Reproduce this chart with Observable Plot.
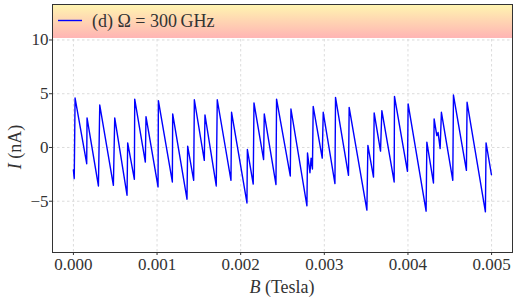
<!DOCTYPE html>
<html><head><meta charset="utf-8">
<script src="https://cdn.jsdelivr.net/npm/d3@7"></script>
<script src="https://cdn.jsdelivr.net/npm/@observablehq/plot@0.6"></script>
<style>body{margin:0;background:#fff} svg{display:block}</style>
</head><body><div id="chart"></div>
<script>
// Magnetic field B in units of 1e-3 Tesla
const B_mT = [0.000,0.010,0.020,0.159,0.163,0.299,0.315,0.478,0.494,0.641,0.649,0.729,0.733,0.860,0.868,
  1.012,1.016,1.183,1.187,1.358,1.366,1.438,1.446,1.565,1.573,1.708,1.720,1.884,1.891,
  2.075,2.080,2.150,2.159,2.274,2.282,2.422,2.429,2.593,2.601,2.792,2.799,2.828,2.842,2.858,2.867,2.975,2.987,
  3.127,3.134,3.289,3.297,3.509,3.521,3.588,3.596,3.672,3.688,3.835,3.839,3.994,4.002,
  4.217,4.226,4.305,4.313,4.345,4.360,4.385,4.400,4.536,4.544,4.699,4.707,4.926,4.934,4.998];
// Current I in nA
const I_nA = [-2.1,-2.9,4.6,-1.51,2.75,-3.58,3.95,-3.52,2.75,-4.44,0.43,-2.96,4.5,-1.36,2.87,
  -3.67,4.35,-3.21,3.12,-4.81,0.12,-3.06,4.44,-1.2,3.03,-3.58,4.44,-3.06,3.27,
  -5.16,-0.19,-3.4,4.14,-1.12,3.12,-3.45,4.5,-2.65,3.58,-5.43,-0.52,-2.35,-0.99,-2.0,3.82,-0.99,3.27,
  -3.36,4.66,-2.59,3.73,-5.83,0.19,-2.75,3.21,-0.34,3.43,-3.21,4.75,-2.22,4.05,
  -5.93,0.49,-3.3,2.66,1.1,1.4,-0.1,3.27,-3.06,4.88,-2.13,4.2,-5.99,0.43,-2.53];
const xTicks = [0, 0.001, 0.002, 0.003, 0.004, 0.005];
const yTicks = [-5, 0, 5, 10];
const legendLabel = "(d) Ω = 300\u2009GHz";

const data = B_mT.map((b, i) => ({B: b / 1000, I: I_nA[i]}));

const chart = Plot.plot({
  width: 518, height: 299,
  marginLeft: 52, marginRight: 6, marginTop: 4, marginBottom: 47,
  style: {fontFamily: "'Liberation Serif', serif", fontSize: "17px", color: "#333", background: "#fff"},
  x: {domain: [-0.00025, 0.00525], label: null},
  y: {domain: [-9.77, 13.3], label: null},
  marks: [
    Plot.gridX(xTicks, {stroke: "#dcdcdc", strokeOpacity: 1, strokeDasharray: "2.5,2.5"}),
    Plot.gridY(yTicks, {stroke: "#dcdcdc", strokeOpacity: 1, strokeDasharray: "2.5,2.5"}),
    Plot.line(data, {x: "B", y: "I", stroke: "#0000ff", strokeWidth: 1.4}),
    Plot.axisX(xTicks, {tickFormat: d3.format(".3f"), tickSize: 3, tickPadding: 2, stroke: "#333", fontSize: 17}),
    Plot.axisY(yTicks, {tickSize: 3, tickPadding: 1, stroke: "#333", fontSize: 17}),
    Plot.frame({stroke: "#333", strokeWidth: 1})
  ]
});
document.getElementById("chart").appendChild(chart);

const svg = d3.select(chart);
const xs = chart.scale("x"), ys = chart.scale("y");
const x0 = xs.range[0], x1 = xs.range[1];
const yTop = ys.range[1], yBand = ys.apply(10) - 1.5;

const defs = svg.insert("defs", ":first-child");
const grad = defs.append("linearGradient").attr("id", "legendGrad")
  .attr("x1", 0).attr("y1", 0).attr("x2", 0).attr("y2", 1);
grad.append("stop").attr("offset", "0%").attr("stop-color", "#fff6b0");
grad.append("stop").attr("offset", "100%").attr("stop-color", "#ffb4b4");

const lg = svg.insert("g", "[aria-label=frame]");
lg.append("rect").attr("x", x0).attr("y", yTop).attr("width", x1 - x0).attr("height", yBand - yTop)
  .attr("fill", "url(#legendGrad)");
lg.append("line").attr("x1", x0 + 6).attr("x2", x0 + 30).attr("y1", 20.5).attr("y2", 20.5)
  .attr("stroke", "#0000ff").attr("stroke-width", 1.4);
lg.append("text").attr("x", x0 + 40).attr("y", 27.3).attr("fill", "#333").attr("text-anchor", "start")
  .style("font-family", "'Liberation Serif', serif").style("font-size", "18px").text(legendLabel);

const xl = svg.append("text").attr("x", (x0 + x1) / 2).attr("y", 293).attr("text-anchor", "middle")
  .attr("fill", "#333").style("font-family", "'Liberation Serif', serif").style("font-size", "18px");
xl.append("tspan").attr("font-style", "italic").text("B");
xl.append("tspan").text(" (Tesla)");

const yl = svg.append("text").attr("transform", `translate(21,${ys.apply(0)}) rotate(-90)`)
  .attr("text-anchor", "middle").attr("fill", "#333")
  .style("font-family", "'Liberation Serif', serif").style("font-size", "18px");
yl.append("tspan").attr("font-style", "italic").text("I");
yl.append("tspan").text(" (nA)");
</script></body></html>
